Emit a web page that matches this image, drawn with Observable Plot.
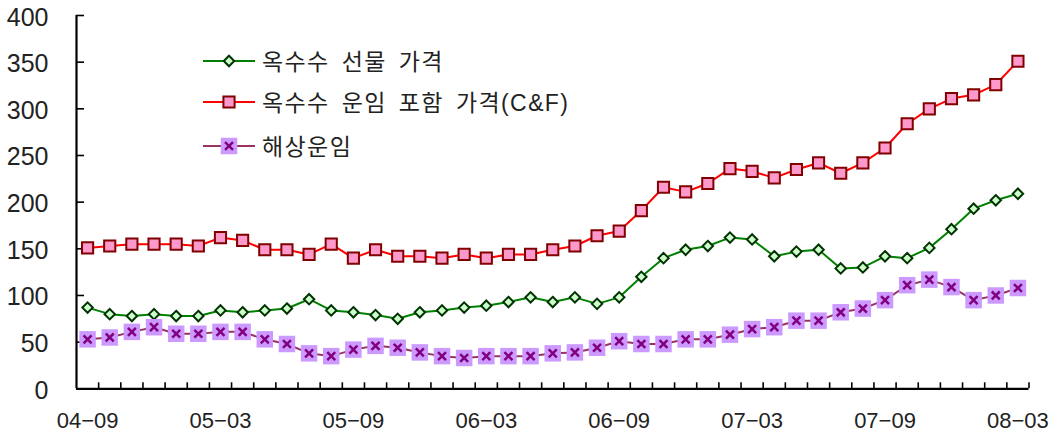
<!DOCTYPE html>
<html>
<head>
<meta charset="utf-8">
<script src="https://cdn.jsdelivr.net/npm/d3@7"></script>
<script src="https://cdn.jsdelivr.net/npm/@observablehq/plot@0.6"></script>
<style>
  html, body { margin: 0; padding: 0; background: #fff; }
  #chart { position: relative; width: 1054px; height: 434px; }
  #legend { position: absolute; left: 0; top: 0; pointer-events: none; }
</style>
</head>
<body>
<div id="chart"></div>
<script>
// Monthly observations, Sep 2004 – Mar 2008
const months = [
  "04-09","04-10","04-11","04-12","05-01","05-02","05-03","05-04","05-05","05-06","05-07","05-08",
  "05-09","05-10","05-11","05-12","06-01","06-02","06-03","06-04","06-05","06-06","06-07","06-08",
  "06-09","06-10","06-11","06-12","07-01","07-02","07-03","07-04","07-05","07-06","07-07","07-08",
  "07-09","07-10","07-11","07-12","08-01","08-02","08-03"
];
const labelMonths = ["04-09","05-03","05-09","06-03","06-09","07-03","07-09","08-03"];
const yTicks = [0, 50, 100, 150, 200, 250, 300, 350, 400];

// 옥수수 선물 가격
const futures = [87, 80, 78, 80, 78, 78, 84, 82, 84, 86, 96, 84, 82, 79, 75, 82, 84, 87, 89, 93, 98, 93, 98, 91, 98,
  120, 140, 149, 153, 162, 160, 142, 147, 149, 129, 130, 142, 140, 151, 171, 193, 202, 209];
// 옥수수 운임 포함 가격(C&F)
const cnf = [151, 153, 155, 155, 155, 153, 162, 159, 149, 149, 144, 155, 140, 149, 142, 142, 140, 144, 140, 144, 144, 149, 153, 164, 169,
  191, 216, 211, 220, 236, 233, 226, 235, 242, 231, 242, 258, 284, 300, 311, 315, 326, 351];
// 해상운임
const freight = [53, 55, 61, 66, 59, 59, 61, 61, 53, 48, 38, 35, 42, 46, 44, 39, 35, 33, 35, 35, 35, 38, 39, 44, 51,
  48, 48, 53, 53, 58, 64, 66, 73, 73, 82, 86, 95, 111, 117, 109, 95, 100, 108];

const seriesNames = ["옥수수 선물 가격", "옥수수 운임 포함 가격(C&F)", "해상운임"];

const W = 1054, H = 434;
const margin = {top: 15, right: 25.5, bottom: 45.7, left: 76};
const innerW = W - margin.left - margin.right;
const innerH = H - margin.top - margin.bottom;

const FONT = "'Liberation Sans', 'Noto Sans CJK KR', sans-serif";

// marker styles shared by the plot and the legend
const styles = [
  {line: "#008000", symbol: "diamond2", r: 4.7, fill: "#ccffcc", stroke: "#003300", sw: 2},
  {line: "#ff0000", symbol: "square", r: 6.3, fill: "#ff99cc", stroke: "#800000", sw: 2},
  {line: "#993366", symbol: "square", r: 9.3, fill: "#cc99ff", stroke: "none", sw: 0, cross: {r: 3.7, stroke: "#800080", sw: 2.5}}
];

const toRows = (vals) => vals.map((v, i) => ({i, month: months[i], v}));
const data = [futures, cnf, freight].map(toRows);

const labelIdx = labelMonths.map(m => months.indexOf(m));
const boundaries = months.map((_, i) => i + 0.5);

const seriesMarks = data.flatMap((rows, k) => {
  const s = styles[k];
  const out = [
    Plot.line(rows, {x: "i", y: "v", stroke: s.line, strokeWidth: 2}),
    Plot.dot(rows, {x: "i", y: "v", symbol: s.symbol, r: s.r, fill: s.fill, stroke: s.stroke, strokeWidth: s.sw})
  ];
  if (s.cross) {
    out.push(Plot.dot(rows, {x: "i", y: "v", symbol: "times", r: s.cross.r, stroke: s.cross.stroke, strokeWidth: s.cross.sw}));
  }
  return out;
});

const chart = Plot.plot({
  width: W,
  height: H,
  marginTop: margin.top,
  marginRight: margin.right,
  marginBottom: margin.bottom,
  marginLeft: margin.left,
  x: {type: "linear", domain: [-0.5, months.length - 0.5], label: null},
  y: {domain: [0, 400], label: null},
  style: {fontFamily: FONT, color: "#222", background: "#fff", overflow: "visible"},
  marks: [
    Plot.axisY({ticks: yTicks, tickSize: 0, tickPadding: 28, fontSize: 25, dy: 2, label: null,
      tickFormat: d => String(d), style: {letterSpacing: "-1.1px"}}),
    Plot.axisX({ticks: labelIdx, tickSize: 0, tickPadding: 24, fontSize: 22, label: null,
      tickFormat: i => months[i].replace("-", "\u2212")}),
    // inward tick marks on both axes
    Plot.ruleX(boundaries, {x: d => d, insetTop: innerH - 6, stroke: "#000", strokeWidth: 1.6}),
    Plot.ruleY(yTicks.filter(v => v > 0), {y: d => d, insetRight: innerW - 8, stroke: "#000", strokeWidth: 1.6}),
    Plot.ruleX([-0.5], {stroke: "#000", strokeWidth: 2.2}),
    Plot.ruleY([0], {stroke: "#000", strokeWidth: 2.2}),
    ...seriesMarks
  ]
});

const container = document.getElementById("chart");
container.appendChild(chart);

// legend drawn over the upper-left of the plot area
const legend = d3.select(container).append("svg")
  .attr("id", "legend").attr("width", W).attr("height", H);
const legendRows = [61, 102, 146];
seriesNames.forEach((name, k) => {
  const s = styles[k];
  const y = legendRows[k];
  const g = legend.append("g");
  g.append("line").attr("x1", 203).attr("x2", 255).attr("y1", y).attr("y2", y)
    .attr("stroke", s.line).attr("stroke-width", 2);
  const sym = s.symbol === "diamond2" ? d3.symbolDiamond2 : d3.symbolSquare;
  g.append("path").attr("transform", `translate(229,${y})`)
    .attr("d", d3.symbol(sym, Math.PI * s.r * s.r)())
    .attr("fill", s.fill).attr("stroke", s.stroke).attr("stroke-width", s.sw);
  if (s.cross) {
    g.append("path").attr("transform", `translate(229,${y})`)
      .attr("d", d3.symbol(d3.symbolTimes, Math.PI * s.cross.r * s.cross.r)())
      .attr("fill", "none").attr("stroke", s.cross.stroke).attr("stroke-width", s.cross.sw);
  }
  const text = g.append("text").attr("x", 262).attr("y", y).attr("dy", "0.37em")
    .attr("font-family", FONT)
    .attr("font-size", 23).attr("letter-spacing", "1.4px").attr("fill", "#222");
  // words laid out one by one so the gap between them stays wide
  name.split(" ").forEach((word, j) => {
    text.append("tspan").attr("dx", j === 0 ? 0 : 12).text(word);
  });
});
</script>
</body>
</html>
